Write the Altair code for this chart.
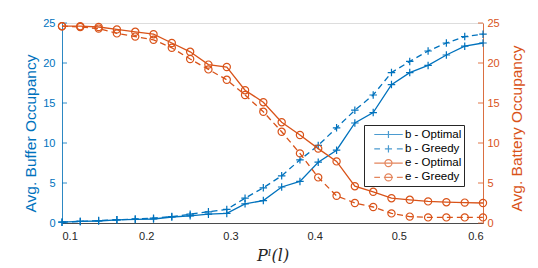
import altair as alt
import pandas as pd

# ---- data ----
x_vals = [0.1, 0.1217, 0.1435, 0.1652, 0.1870, 0.2087, 0.2304, 0.2522, 0.2739, 0.2957,
          0.3174, 0.3391, 0.3609, 0.3826, 0.4043, 0.4261, 0.4478, 0.4696, 0.4913, 0.5130,
          0.5348, 0.5565, 0.5783, 0.6]
b_optimal = [0.1, 0.2, 0.25, 0.4, 0.45, 0.5, 0.75, 0.9, 1.1, 1.2, 2.4, 2.8, 4.5, 5.2,
             7.6, 9.1, 12.5, 13.8, 17.3, 18.8, 19.7, 21.0, 22.1, 22.5]
b_greedy = [0.1, 0.2, 0.3, 0.4, 0.5, 0.6, 0.8, 1.1, 1.4, 1.7, 3.1, 4.4, 5.9, 7.9,
            9.7, 11.9, 14.1, 16.0, 18.8, 20.2, 21.5, 22.5, 23.3, 23.6]
e_optimal = [24.6, 24.6, 24.5, 24.2, 23.9, 23.6, 22.5, 21.4, 19.8, 19.5, 16.6, 15.1, 12.6, 11.0,
             9.3, 7.7, 4.6, 3.9, 3.1, 2.9, 2.7, 2.6, 2.55, 2.5]
e_greedy = [24.6, 24.5, 24.3, 23.7, 23.3, 22.9, 21.9, 20.5, 19.2, 17.9, 16.0, 13.9, 11.4, 8.7,
            5.7, 3.4, 2.5, 2.0, 1.2, 0.8, 0.7, 0.7, 0.7, 0.7]

series_names = ["b - Optimal", "b - Greedy", "e - Optimal", "e - Greedy"]
x_ticks = [0.1, 0.2, 0.3, 0.4, 0.5, 0.6]
y_ticks = [0, 5, 10, 15, 20, 25]

BLUE = "#0072BD"
ORANGE = "#D95319"
GRAY = "#262626"
W, H = 421, 200
FONT = "Liberation Sans"

PLUS = "M-1,0H1M0,-1V1"
legend_paths = [
    "M0.12,0H4.5M2.3,-0.55V0.55",
    "M0.12,0H1.0M1.75,0H2.85M2.3,-0.55V0.55M3.6,0H4.5",
    "M0.12,0H4.5M2.85,0A0.55,0.55 0 1,0 1.75,0A0.55,0.55 0 1,0 2.85,0",
    "M0.12,0H1.0M1.6,0H3.0M2.85,0A0.55,0.55 0 1,0 1.75,0A0.55,0.55 0 1,0 2.85,0M3.6,0H4.5",
]

def series_df(vals, name):
    return pd.DataFrame({"x": x_vals, "value": vals, "series": name})

x_enc = alt.X("x:Q",
              scale=alt.Scale(domain=[0.1, 0.6], nice=False, zero=False),
              axis=alt.Axis(values=x_ticks, format=".1f", ticks=False, grid=False,
                            labelFont=FONT, labelFontSize=11, labelColor=GRAY,
                            labelPadding=7, domainColor=GRAY, domainWidth=0.8,
                            title="Pˡ(l)", titleFont="DejaVu Serif", titleFontStyle="italic",
                            titleFontWeight="normal", titleFontSize=16, titleColor=GRAY,
                            titleBaseline="middle", titleY=32))

def y_enc(field, color, orient, title, label_pad, title_x, title_y):
    return alt.Y(field,
                 scale=alt.Scale(domain=[0, 25], nice=False, zero=True),
                 axis=alt.Axis(orient=orient, values=y_ticks, ticks=False, grid=False,
                               labelFont=FONT, labelFontSize=11, labelColor=color,
                               labelPadding=label_pad, domainColor=color, domainWidth=0.8,
                               title=title, titleFont=FONT, titleFontSize=15.5,
                               titleFontWeight="normal", titleColor=color,
                               titleAngle=270, titleBaseline="middle", titleAlign="center",
                               titleX=title_x, titleY=title_y))

def group(specs, color, orient, title, label_pad, title_x, title_y, tick_x, tick_x2):
    layers = []
    for vals, name, dash, shape, size in specs:
        df = series_df(vals, name)
        ye = y_enc("value:Q", color, orient, title, label_pad, title_x, title_y)
        line_kw = dict(color=color, strokeWidth=1.3)
        if dash:
            line_kw["strokeDash"] = [6, 4]
        layers.append(alt.Chart(df).mark_line(**line_kw).encode(x=x_enc, y=ye))
        layers.append(alt.Chart(df).mark_point(shape=shape, size=size, filled=False,
                                               color=color, strokeWidth=1.2, opacity=1)
                      .encode(x=x_enc, y=ye))
    tick_df = pd.DataFrame({"t": y_ticks})
    layers.append(alt.Chart(tick_df).mark_rule(color=color, strokeWidth=0.8).encode(
        y=y_enc("t:Q", color, orient, title, label_pad, title_x, title_y),
        x=alt.value(tick_x), x2=alt.value(tick_x2)))
    return alt.layer(*layers)

left = group([(b_optimal, series_names[0], False, PLUS, 56),
              (b_greedy, series_names[1], True, PLUS, 56)],
             BLUE, "left", "Avg. Buffer Occupancy", 7, -32, 110, 0, 5)
right = group([(e_optimal, series_names[2], False, "circle", 52),
               (e_greedy, series_names[3], True, "circle", 52)],
              ORANGE, "right", "Avg. Battery Occupancy", 4, 33, 105, W - 5, W)

xt_df = pd.DataFrame({"t": x_ticks})
bottom_ticks = alt.Chart(xt_df).mark_rule(color=GRAY, strokeWidth=0.8).encode(
    x=x_enc, y=alt.value(H - 5), y2=alt.value(H))
top_ticks = alt.Chart(xt_df).mark_rule(color=GRAY, strokeWidth=0.8).encode(
    x=x_enc, y=alt.value(0), y2=alt.value(5))

leg = alt.Legend(orient="none", legendX=302, legendY=102, title=None,
                 fillColor="white", strokeColor=GRAY, padding=2, rowPadding=0.3,
                 symbolSize=169, symbolStrokeWidth=1.2, labelOffset=24,
                 labelFont=FONT, labelFontSize=11.5, labelColor="black")
legend_df = pd.DataFrame({"series": series_names})
legend_layer = alt.Chart(legend_df).mark_point(filled=False, clip=True, strokeWidth=1.2).encode(
    x=alt.value(-60), y=alt.value(-60),
    color=alt.Color("series:N", scale=alt.Scale(domain=series_names,
                                                 range=[BLUE, BLUE, ORANGE, ORANGE]),
                    legend=leg, sort=series_names),
    shape=alt.Shape("series:N", scale=alt.Scale(domain=series_names, range=legend_paths),
                    legend=leg, sort=series_names))

chart = alt.layer(left, right, bottom_ticks, top_ticks, legend_layer).resolve_scale(
    y="independent"
).properties(
    width=W, height=H,
    autosize=alt.AutoSizeParams(type="none"),
    padding={"left": 54, "top": 15, "right": 47, "bottom": 40},
).configure_view(stroke=GRAY, strokeWidth=0.8).configure(background="white")

chart.save("out.html", embed_options={"renderer": "svg", "actions": False})
